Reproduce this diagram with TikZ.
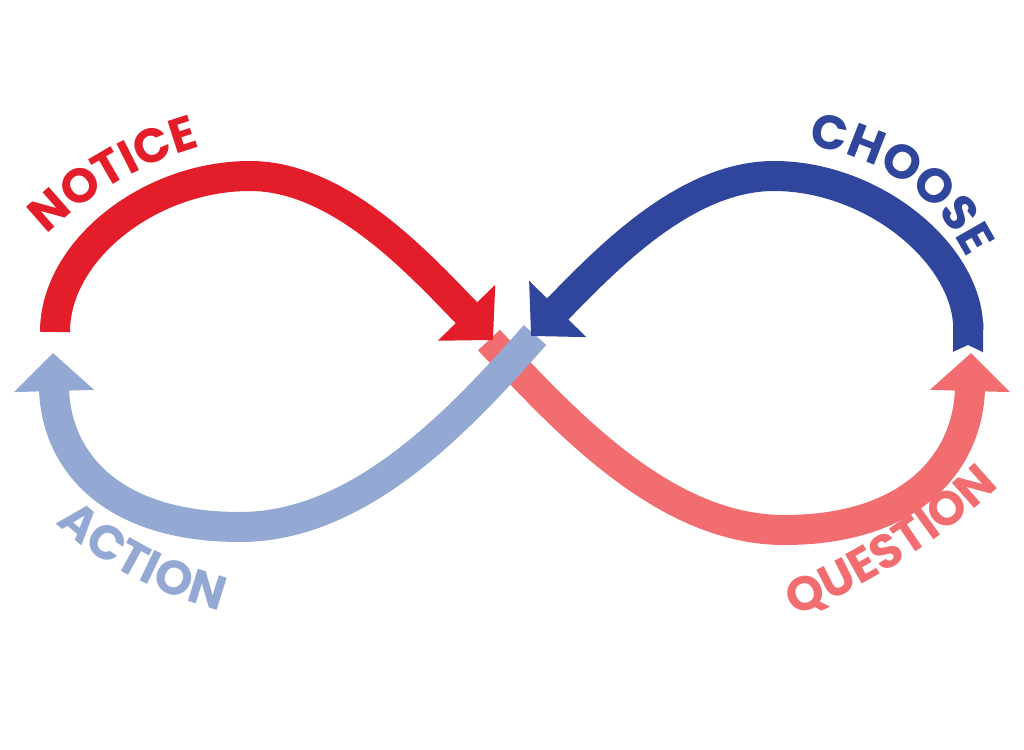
\documentclass[tikz,border=0pt]{standalone}
\usepackage{fontspec}
\setmainfont{Poppins}
\usetikzlibrary{arrows.meta,decorations.text}

\definecolor{noticered}{HTML}{E31E2A}
\definecolor{chooseblue}{HTML}{2F469C}
\definecolor{actionblue}{HTML}{93A8D3}
\definecolor{questionred}{HTML}{F26D6F}

\begin{document}
\begin{tikzpicture}[%
    x=1pt, y=-1pt,
    loop/.style={line width=30pt, -{Triangle[width=78pt,length=38pt]}},
    word/.style 2 args={decorate, decoration={text along path, text align=center,
        text={|\fontsize{48}{48}\selectfont\bfseries\color{#1}|#2}}}
]
\useasboundingbox (0,0) rectangle (1024,749);

% ---------------- End points of the loops ----------------
\coordinate (noticestart) at (55,332);
\coordinate (noticetop)   at (250,176);
\coordinate (noticetip)   at (493,340);
\coordinate (choosestart) at (968,352);
\coordinate (choosetop)   at (774,176);
\coordinate (choosetip)   at (531,336);
\coordinate (actionstart) at (535,335);
\coordinate (actionlow)   at (240,527);
\coordinate (actiontip)   at (53,353);
\coordinate (queststart)  at (489,340);
\coordinate (questlow)    at (784,530);
\coordinate (questtip)    at (971,353);

% ---------------- Lower arrows ----------------
\draw[loop, questionred] (queststart) .. controls (564,420) and (664,530) .. (questlow)
    .. controls (914,530) and (968,460) .. (questtip);
\draw[loop, actionblue] (actionstart) .. controls (460,420) and (360,527) .. (actionlow)
    .. controls (110,527) and (56,460) .. (actiontip);

% ---------------- Upper arrows ----------------
\draw[loop, noticered] (noticestart) .. controls (55,250) and (150,176) .. (noticetop)
    .. controls (340,176) and (420,265) .. (noticetip);
\draw[loop, chooseblue, {Triangle Cap[reversed,length=7pt]}-{Triangle[width=78pt,length=38pt]}]
    (choosestart) .. controls (969,255) and (874,176) .. (choosetop)
    .. controls (684,176) and (604,262) .. (choosetip);

% ---------------- Words ----------------
\path[word={noticered}{NOTICE}] (20,265) .. controls (60,215) and (135,155) .. (240,138);
\path[word={chooseblue}{CHOOSE}] (790,145) .. controls (880,150) and (945,200) .. (975,275);
\path[word={actionblue}{ACTION}] (35,500) .. controls (75,550) and (150,598) .. (250,618);
\path[word={questionred}{QUESTION}] (760,628) .. controls (850,600) and (950,540) .. (1025,460);

\end{tikzpicture}
\end{document}
